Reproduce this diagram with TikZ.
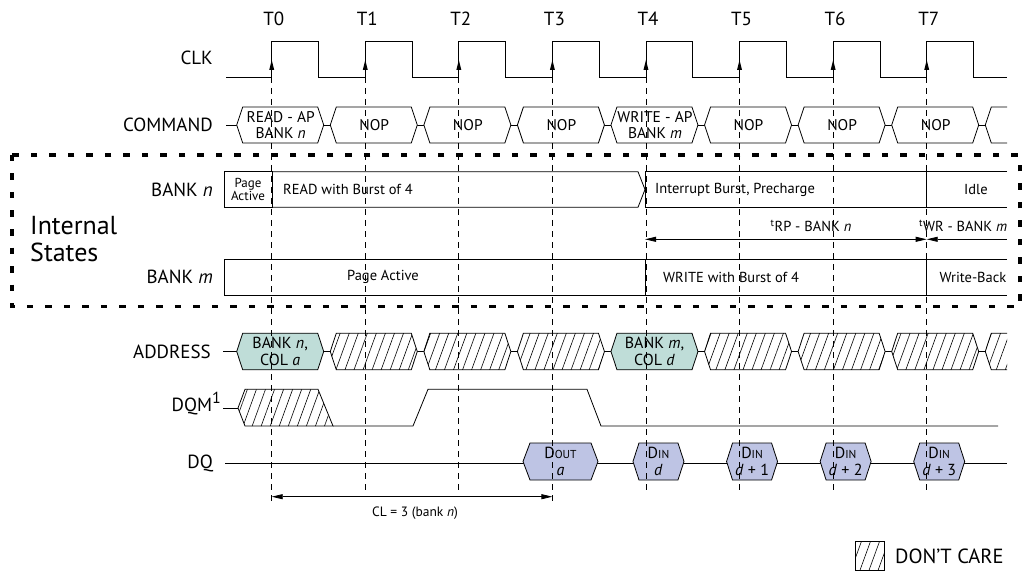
\documentclass[tikz,border=0pt]{standalone}
\usepackage{fontspec}
\setmainfont{PT Sans}
\usetikzlibrary{arrows.meta,patterns.meta}
\definecolor{A}{RGB}{191,221,216}
\definecolor{D}{RGB}{190,196,228}
\newcommand{\per}{93.57}
% bus segment: style, left x, right x, mid y, half height, slant
\newcommand{\busbox}[6]{\path[#1] (#2,#4) -- (#2+#6,#4-#5) -- (#3-#6,#4-#5) -- (#3,#4) -- (#3-#6,#4+#5) -- (#2+#6,#4+#5) -- cycle;}

\begin{document}
\begin{tikzpicture}[x=1pt,y=-1pt,
  lbl/.style={anchor=east,inner sep=0pt,font=\fontsize{19}{21}\selectfont},
  tl/.style={font=\fontsize{19}{20}\selectfont},
  txt/.style={font=\fontsize{14.5}{15.5}\selectfont,align=center,inner sep=0pt},
  ctxt/.style={font=\fontsize{15.5}{16}\selectfont,align=center,inner sep=0pt},
  atxt/.style={font=\fontsize{16}{17}\selectfont,align=center,inner sep=0pt},
  sml/.style={font=\fontsize{13}{13.5}\selectfont,align=center,inner sep=0pt},
  wire/.style={line width=0.8pt},
  grid/.style={line width=0.7pt,dash pattern=on 6pt off 5pt},
  hatch/.style={pattern={Lines[angle=70,distance=8.5pt,line width=0.6pt]}},
  dim/.style={line width=0.8pt,arrows={Triangle[length=11pt,width=5pt]-Triangle[length=11pt,width=5pt]}},
  dimr/.style={line width=0.8pt,arrows={Triangle[length=11pt,width=5pt]-}}]
\useasboundingbox (0,0) rectangle (1025,572);

% clock edges
\foreach \i in {0,...,7}{
  \pgfmathsetmacro\x{271.7+\i*\per}
  \coordinate (T\i) at (\x,77);
  \node[tl] (t\i) at (\x+2,19) {T\i};
}

% row labels
\node[lbl] (clk) at (213,58) {CLK};
\node[lbl] (cmd) at (213,125) {COMMAND};
\node[lbl] (bn) at (213,190) {BANK \textit{n}};
\node[lbl] (bm) at (213,277) {BANK \textit{m}};
\node[lbl] (addr) at (211,352) {ADDRESS};
\node[lbl] (dqm) at (221,404) {DQM\raisebox{8pt}{\fontsize{16}{16}\selectfont 1}};
\node[lbl] (dq) at (213,463) {DQ};

% CLK
\draw[wire] (226,77) \foreach \i in {0,...,7}{ -- (T\i) -- ++(0,-36) -- ++(46.8,0) -- ++(0,36)} -- (1007,77);
\foreach \i in {0,...,7}
  \fill (T\i) ++(-2.5,-7) -- ++(5,0) -- ++(-2.5,-10) -- cycle;

% COMMAND
\begin{scope}
  \clip (0,0) rectangle (1007,572);
  \draw[wire] (226,125) -- (1007,125);
  \foreach \i/\c in {0/{READ - AP\\BANK \textit{n}},1/NOP,2/NOP,3/NOP,4/{WRITE - AP\\BANK \textit{m}},5/NOP,6/NOP,7/NOP,8/{}}{
    \pgfmathsetmacro\x{271.7+\i*\per}
    \busbox{wire,draw,fill=white}{\x-35}{\x+52}{125}{18}{6}
    \node[ctxt] (c\i) at (\x+9,125) {\c};
  }
\end{scope}

% internal states
\draw[line width=3.5pt,dash pattern=on 6.5pt off 12pt] (12,155) rectangle (1020,306.7);
\node[anchor=west,align=left,inner sep=0pt,font=\fontsize{26}{27}\selectfont] (is) at (30,239) {Internal\\States};

\draw[wire] (224,171.7) rectangle (272,207.3);
\node[sml] (pa) at (248,189.5) {Page\\Active};
\draw[wire] (272,171.7) -- (638,171.7) -- (645,189.5) -- (638,207.3) -- (272,207.3);
\node[txt,anchor=west] (rd) at (283,189.5) {READ with Burst of 4};
\draw[wire] (645,171.7) rectangle (926.7,207.3);
\node[txt,anchor=west] (ip) at (655,189.5) {Interrupt Burst, Precharge};
\draw[wire] (1007,171.7) -- (926.7,171.7) -- (926.7,207.3) -- (1007,207.3);
\node[txt] (idle) at (976,189.5) {Idle};

\coordinate (rp0) at (645,239.3);
\coordinate (rp1) at (926.7,239.3);
\coordinate (wr1) at (1007,239.3);
\draw[dim] (rp0) -- (rp1);
\draw[dimr] (rp1) -- (wr1);
\node[txt] (trp) at (811,226) {\textsuperscript{t}RP - BANK \textit{n}};
\node[txt,anchor=west] (twr) at (919,226) {\textsuperscript{t}WR - BANK \textit{m}};

\draw[wire] (224,259.3) rectangle (645,295);
\node[txt] (pam) at (383,277) {Page Active};
\draw[wire] (645,259.3) rectangle (926.7,295);
\node[txt,anchor=west] (wb4) at (663,277) {WRITE with Burst of 4};
\draw[wire] (1007,259.3) -- (926.7,259.3) -- (926.7,295) -- (1007,295);
\node[txt] (wb) at (973,277) {Write-Back};

% ADDRESS
\begin{scope}
  \clip (0,0) rectangle (1007,572);
  \draw[wire] (223,351.5) -- (1007,351.5);
  \foreach \i in {1,2,3,5,6,7,8}{
    \pgfmathsetmacro\x{271.7+\i*\per}
    \busbox{fill=white}{\x-35}{\x+52}{351.5}{18.3}{6}
    \busbox{wire,draw,hatch}{\x-35}{\x+52}{351.5}{18.3}{6}
  }
  \foreach \i/\c in {0/{BANK \textit{n},\\COL \textit{a}},4/{BANK \textit{m},\\COL \textit{d}}}{
    \pgfmathsetmacro\x{271.7+\i*\per}
    \busbox{wire,draw,fill=A}{\x-35}{\x+52}{351.5}{18.3}{6}
    \node[atxt] (a\i) at (\x+8.5,351.5) {\c};
  }
\end{scope}

% DQM
\draw[wire] (223,408) -- (238,408);
\path[hatch] (238,408) -- (245,389.3) -- (318,389.3) -- (333,426) -- (245,426) -- cycle;
\draw[wire] (238,408) -- (245,389.3) -- (318,389.3) -- (333,426) -- (245,426) -- cycle;
\draw[wire] (333,426) -- (413,426) -- (428,389.3) -- (587,389.3) -- (601,426) -- (998,426);

% DQ
\draw[wire] (225,463) -- (1007,463);
\busbox{wire,draw,fill=D}{523}{598}{461.5}{18.5}{7}
\node[atxt] (dout) at (560.5,461.5) {D{\fontsize{11.5}{12}\selectfont OUT}\\\textit{a}};
\foreach \i/\c in {4/{\textit{d}},5/{\textit{d} + 1},6/{\textit{d} + 2},7/{\textit{d} + 3}}{
  \pgfmathsetmacro\x{271.7+\i*\per}
  \busbox{wire,draw,fill=D}{\x-13}{\x+38}{461.5}{18.5}{6}
  \node[atxt] (din\i) at (\x+12.5,461.5) {D{\fontsize{11.5}{12}\selectfont IN}\\\c};
}

% CL
\coordinate (cl0) at (271.7,496.7);
\coordinate (cl1) at (552.4,496.7);
\draw[dim] (cl0) -- (cl1);
\node[font=\fontsize{13.5}{14}\selectfont,inner sep=0pt] (cl) at (415,513) {CL = 3 (bank \textit{n})};

% grid lines
\foreach \i/\e in {0/505,1/490,2/490,3/505,4/490,5/490,6/490,7/490}{
  \pgfmathsetmacro\x{271.7+\i*\per}
  \draw[grid] (T\i) -- (\x,\e);
}

% legend
\path[hatch] (855,541.7) rectangle (884,570);
\draw[wire] (855,541.7) rectangle (884,570);
\node[anchor=west,inner sep=0pt,font=\fontsize{20.5}{22}\selectfont] (dc) at (895,556) {DON'T CARE};
\end{tikzpicture}
\end{document}
